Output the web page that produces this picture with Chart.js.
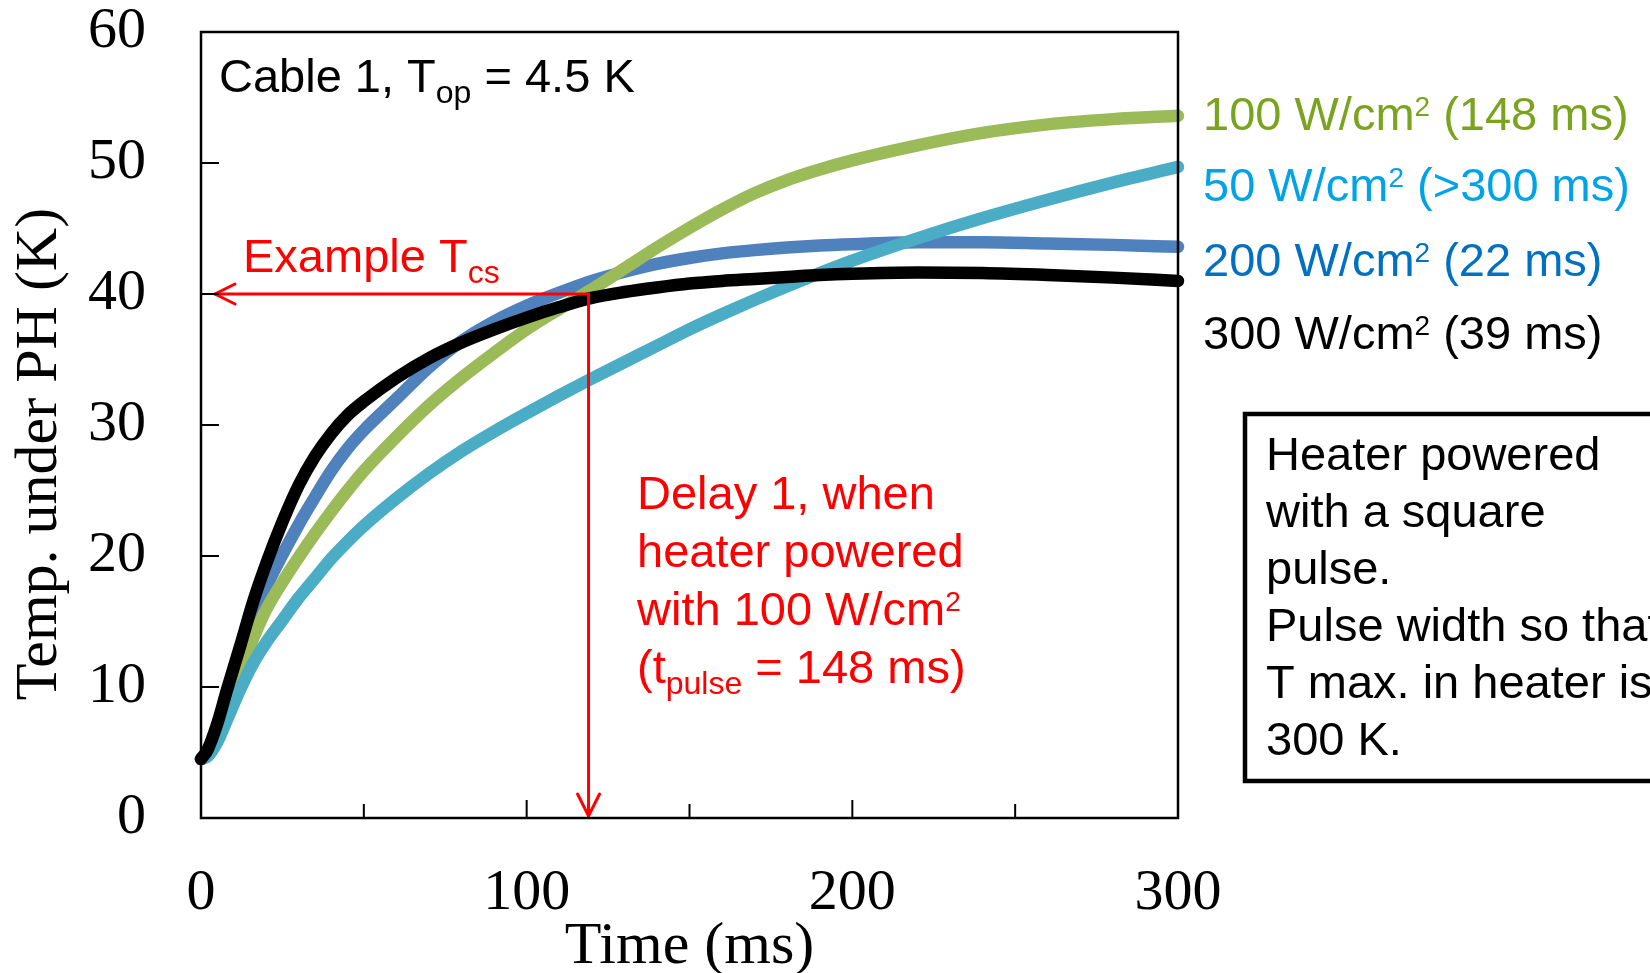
<!DOCTYPE html>
<html>
<head>
<meta charset="utf-8">
<title>Temp. under PH</title>
<script src="https://cdn.jsdelivr.net/npm/chart.js@4.4.1/dist/chart.umd.min.js"></script>
<style>
  html, body { margin: 0; padding: 0; background: #fff; }
  #wrap { width: 1650px; height: 973px; }
</style>
</head>
<body>
<div id="wrap"><canvas id="phChart" width="1650" height="973"></canvas></div>
<script>
// time axis (ms), shared by the four curves
const time_ms = [0, 2, 5, 8, 12, 16, 20, 25, 30, 35, 40, 45, 50, 60, 70, 80, 90, 100, 110, 120, 130, 140, 150, 160, 170, 180, 190, 200, 220, 240, 260, 280, 300]

// temperature under the pancake heater (K)
const temp_300W = [4.5, 5.2, 7.2, 9.8, 13.1, 16.5, 19.4, 22.6, 25.4, 27.6, 29.35, 30.75, 31.8, 33.6, 35.1, 36.3, 37.3, 38.2, 39.0, 39.7, 40.15, 40.5, 40.8, 41.0, 41.15, 41.3, 41.45, 41.55, 41.65, 41.6, 41.45, 41.25, 41.0]
const temp_200W = [4.5, 5.0, 6.5, 8.6, 11.7, 14.9, 17.6, 20.1, 22.4, 24.5, 26.5, 28.2, 29.6, 32.0, 34.4, 36.4, 37.9, 39.1, 40.1, 41.0, 41.7, 42.3, 42.75, 43.1, 43.35, 43.55, 43.7, 43.8, 43.95, 43.95, 43.85, 43.75, 43.6]
const temp_100W = [4.5, 5.0, 6.4, 8.4, 11.2, 13.7, 15.9, 18.0, 19.9, 21.7, 23.4, 25.0, 26.5, 29.1, 31.5, 33.6, 35.5, 37.3, 38.85, 40.35, 41.95, 43.55, 45.05, 46.45, 47.7, 48.7, 49.5, 50.2, 51.35, 52.3, 52.95, 53.35, 53.6]
const temp_50W = [4.5, 4.7, 5.8, 7.5, 9.8, 11.8, 13.4, 15.1, 16.8, 18.3, 19.8, 21.1, 22.3, 24.4, 26.3, 28.0, 29.5, 30.9, 32.25, 33.55, 34.8, 36.05, 37.3, 38.45, 39.55, 40.6, 41.6, 42.55, 44.25, 45.8, 47.2, 48.5, 49.7]

// right hand legend, top to bottom
const legend_power = ['100', '50', '200', '300']
const legend_pulse = ['(148 ms)', '(>300 ms)', '(22 ms)', '(39 ms)']
const legend_color = ['#7aa31e', '#00a2e8', '#0070c0', '#000000']

// axis ticks
const y_ticks = [10, 20, 30, 40, 50]
const x_major_ticks = [100, 200]
const x_minor_ticks = [50, 150, 250]

// example Tcs and the delay read from it
const tcs_K = 40
const delay_ms = 119

const SANS = '"Liberation Sans", Arial, sans-serif'
const SERIF = '"Liberation Serif", "Times New Roman", serif'

function toPoints(values) {
    return time_ms.map((t, i) => ({ x: t, y: values[i] }))
}

// draws text made of pieces [text, size, dy]
function drawRich(ctx, x, y, parts, color) {
    ctx.save()
    ctx.fillStyle = color
    ctx.textAlign = 'left'
    ctx.textBaseline = 'alphabetic'
    for (const [txt, size, dy] of parts) {
        ctx.font = size + 'px ' + SANS
        ctx.fillText(txt, x, y + dy)
        x += ctx.measureText(txt).width
    }
    ctx.restore()
}

const SUP = 28, SUB = 32

///////////////////////
// Overlay drawings  //
///////////////////////

const overlay = {
    id: 'overlay',
    afterDatasetsDraw(chart) {
        const ctx = chart.ctx
        const xs = chart.scales.x, ys = chart.scales.y
        const px = xs.getPixelForValue(delay_ms)
        const py = ys.getPixelForValue(tcs_K)
        const left = chart.chartArea.left + 14
        const bottom = ys.getPixelForValue(0) - 2

        ctx.save()
        ctx.strokeStyle = '#ff0000'
        ctx.lineWidth = 3
        ctx.lineCap = 'round'
        ctx.beginPath()
        ctx.moveTo(left, py)
        ctx.lineTo(px, py)
        ctx.lineTo(px, bottom)
        ctx.stroke()
        // arrow heads
        ctx.beginPath()
        ctx.moveTo(left + 20, py - 10)
        ctx.lineTo(left, py)
        ctx.lineTo(left + 20, py + 10)
        ctx.moveTo(px - 11, bottom - 22)
        ctx.lineTo(px, bottom)
        ctx.lineTo(px + 11, bottom - 22)
        ctx.stroke()
        ctx.restore()
    },
    afterDraw(chart) {
        const ctx = chart.ctx
        const a = chart.chartArea
        const xs = chart.scales.x, ys = chart.scales.y

        // frame
        ctx.save()
        ctx.strokeStyle = '#000'
        ctx.lineWidth = 2.5
        ctx.strokeRect(a.left, a.top, a.right - a.left, a.bottom - a.top)

        // inward tick marks
        ctx.lineWidth = 2
        ctx.beginPath()
        y_ticks.forEach(v => {
            const y = ys.getPixelForValue(v)
            ctx.moveTo(a.left, y)
            ctx.lineTo(a.left + 18, y)
        })
        x_major_ticks.forEach(v => {
            const x = xs.getPixelForValue(v)
            ctx.moveTo(x, a.bottom)
            ctx.lineTo(x, a.bottom - 18)
        })
        x_minor_ticks.forEach(v => {
            const x = xs.getPixelForValue(v)
            ctx.moveTo(x, a.bottom)
            ctx.lineTo(x, a.bottom - 14)
        })
        ctx.stroke()

        // y axis title
        ctx.translate(40, 454)
        ctx.rotate(-Math.PI / 2)
        ctx.font = '60px ' + SERIF
        ctx.fillStyle = '#000'
        ctx.textAlign = 'center'
        ctx.textBaseline = 'middle'
        ctx.fillText('Temp. under PH (K)', 0, 0)
        ctx.restore()

        // case label
        drawRich(ctx, 219, 92, [['Cable 1, T', 47, 0], ['op', SUB, 11], [' = 4.5 K', 47, 0]], '#000')

        // red annotations
        drawRich(ctx, 243, 272, [['Example T', 47, 0], ['cs', SUB, 11]], '#ff0000')
        drawRich(ctx, 637, 509, [['Delay 1, when', 47, 0]], '#ff0000')
        drawRich(ctx, 637, 567, [['heater powered', 47, 0]], '#ff0000')
        drawRich(ctx, 637, 625, [['with 100 W/cm', 47, 0], ['2', SUP, -14]], '#ff0000')
        drawRich(ctx, 637, 683, [['(t', 47, 0], ['pulse', SUB, 11], [' = 148 ms)', 47, 0]], '#ff0000')

        // legend on the right
        const base = [130, 201, 276, 349]
        legend_power.forEach((p, i) => {
            drawRich(ctx, 1203, base[i], [[p + ' W/cm', 47, 0], ['2', SUP, -14], [' ' + legend_pulse[i], 47, 0]], legend_color[i])
        })

        // note box, runs off the right edge
        ctx.save()
        ctx.strokeStyle = '#000'
        ctx.lineWidth = 4.5
        ctx.strokeRect(1245, 414, 600, 367)
        ctx.restore()
        const note = ['Heater powered', 'with a square', 'pulse.', 'Pulse width so that', 'T max. in heater is', '300 K.']
        note.forEach((line, i) => {
            drawRich(ctx, 1266, 470 + i * 57, [[line, 47, 0]], '#000')
        })
    }
}

///////////////////
// Create Chart  //
///////////////////

const lineStyle = {
    borderWidth: 12.5,
    pointRadius: 0,
    cubicInterpolationMode: 'monotone',
    borderCapStyle: 'round',
    borderJoinStyle: 'round',
    fill: false,
    clip: false
}

const ph_chart = new Chart(document.getElementById('phChart'), {
    type: 'line',
    data: {
        datasets: [
            { label: '300 W/cm2', data: toPoints(temp_300W), borderColor: '#000000', ...lineStyle },
            { label: '50 W/cm2', data: toPoints(temp_50W), borderColor: '#4bacc6', ...lineStyle },
            { label: '100 W/cm2', data: toPoints(temp_100W), borderColor: '#9bbb59', ...lineStyle },
            { label: '200 W/cm2', data: toPoints(temp_200W), borderColor: '#4f81bd', ...lineStyle }
        ]
    },
    options: {
        responsive: false,
        animation: false,
        layout: { padding: { left: 0, right: 472, top: 32, bottom: 0 } },
        plugins: {
            legend: { display: false },
            tooltip: { enabled: false }
        },
        scales: {
            x: {
                type: 'linear',
                min: 0,
                max: 300,
                ticks: {
                    stepSize: 100,
                    padding: 47,
                    maxRotation: 0,
                    color: '#000',
                    font: { family: SERIF, size: 58, lineHeight: 1 }
                },
                grid: { display: false, drawTicks: false },
                border: { display: false },
                title: {
                    display: true,
                    text: 'Time (ms)',
                    color: '#000',
                    padding: 0,
                    font: { family: SERIF, size: 60, lineHeight: 0.85 }
                },
                afterFit(scale) {
                    scale.height = 155
                    scale.paddingLeft = 0
                    scale.paddingRight = 0
                }
            },
            y: {
                min: 0,
                max: 60,
                ticks: {
                    stepSize: 10,
                    padding: 55,
                    color: '#000',
                    font: { family: SERIF, size: 58, lineHeight: 1 }
                },
                grid: { display: false, drawTicks: false },
                border: { display: false },
                afterFit(scale) {
                    scale.width = 201
                    scale.paddingTop = 0
                    scale.paddingBottom = 0
                }
            }
        }
    },
    plugins: [overlay]
})
</script>
</body>
</html>
